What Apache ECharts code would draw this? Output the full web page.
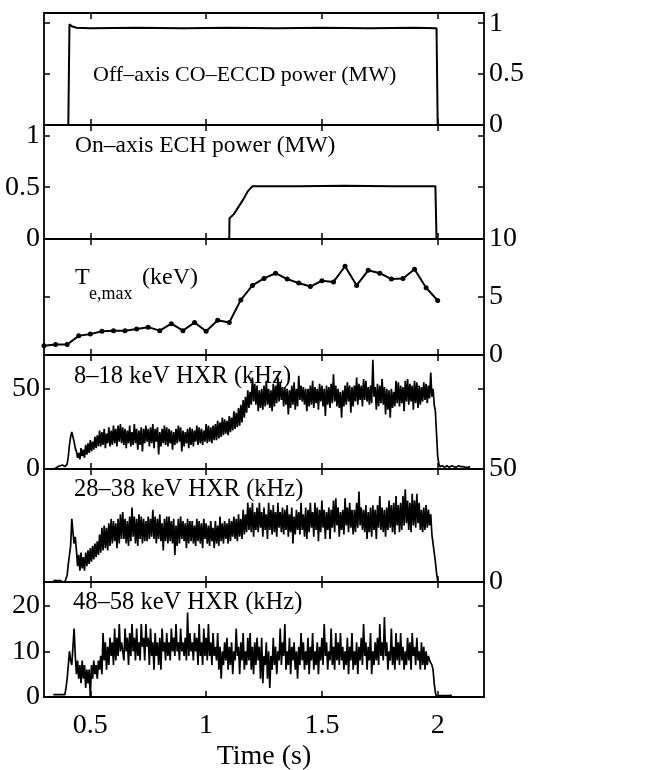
<!DOCTYPE html>
<html><head><meta charset="utf-8">
<script src="https://cdn.jsdelivr.net/npm/echarts@6/dist/echarts.min.js"></script>
<style>html,body{margin:0;padding:0;background:#fff}#c{width:648px;height:770px}</style>
</head><body><div id="c"></div>
<script>
// ---------- DATA ----------
const xTickValues = [0.5, 1, 1.5, 2];

// Panel 1: Off-axis CO-ECCD power (MW)
const eccdTime  = [0.35, 0.405, 0.41, 0.42, 0.44, 0.5, 0.7, 0.9, 1.1, 1.3, 1.5, 1.7, 1.9, 1.995, 2.0, 2.15];
const eccdPower = [0, 0, 0.99, 0.97, 0.955, 0.95, 0.955, 0.95, 0.955, 0.95, 0.955, 0.95, 0.955, 0.95, 0, 0];

// Panel 2: On-axis ECH power (MW)
const echTime  = [0.35, 1.1, 1.101, 1.12, 1.14, 1.16, 1.18, 1.2, 1.4, 1.6, 1.8, 1.99, 1.995, 2.15];
const echPower = [0, 0, 0.2, 0.24, 0.31, 0.38, 0.46, 0.51, 0.51, 0.515, 0.51, 0.51, 0, 0];

// Panel 3: Te,max (keV)
const teTime = [0.30,0.35,0.40,0.45,0.50,0.55,0.60,0.65,0.70,0.75,0.80,0.85,0.90,0.95,1.00,1.05,1.10,1.15,1.20,1.25,1.30,1.35,1.40,1.45,1.50,1.55,1.60,1.65,1.70,1.75,1.80,1.85,1.90,1.95,2.00];
const teVal  = [0.8,0.9,0.9,1.65,1.8,2.05,2.1,2.1,2.25,2.4,2.1,2.7,2.1,2.8,2.05,3.0,2.8,4.75,6.0,6.6,7.05,6.55,6.2,5.9,6.4,6.3,7.65,6.0,7.3,7.05,6.55,6.6,7.4,5.8,4.7];

// Panel 4: 8-18 keV HXR (kHz), sampled every 0.005 s from 0.34 s (one row = 0.1 s)
const hxr1Start = 0.34, hxr1Step = 0.005;
const hxr1 = [
 0,0.3,0.5,1,1.5,2,2,2.5,2.5,2,1.5,1,3,8,15,20,23,20,17,13,
 11,7,10,6,13,8,12,7,15,9,16,10,18,11,17,12,20,13,21,14,
 24,14,23,15,25,13,22,16,26,14,24,15,27,16,25,14,27,17,28,16,
 26,15,25,13,24,16,27,14,23,15,28,16,25,12,24,15,26,11,25,16,
 27,17,25,14,26,16,28,13,25,17,26,9,23,14,25,16,27,15,26,14,
 25,16,24,12,23,15,25,16,27,17,26,11,24,14,23,16,25,13,26,15,
 25,14,24,17,27,15,26,16,25,15,24,17,28,16,27,17,26,16,27,18,
 28,18,30,19,29,20,32,21,31,22,30,21,33,23,32,24,36,25,35,26,
 38,27,40,29,43,32,45,35,49,38,48,40,57,42,53,40,52,36,49,38,
 50,37,52,39,55,40,50,38,49,36,53,39,52,41,57,42,54,43,51,39,
 51,40,50,34,49,38,52,40,54,37,50,39,58,43,52,42,51,40,50,36,
 50,39,52,40,55,38,51,41,50,37,53,42,52,39,50,33,52,40,51,38,
 53,41,59,42,52,39,50,38,48,32,49,39,52,40,54,42,52,35,51,39,
 52,42,57,40,53,43,52,39,56,43,55,42,51,40,52,41,68,45,51,37,
 53,39,52,41,56,40,51,34,50,37,49,32,50,38,48,39,55,41,54,39,
 52,41,51,36,55,42,56,40,53,42,52,37,55,41,54,38,52,40,51,42,
 54,43,53,41,52,44,60,45,50,40,36,22,8,3,1.5,2,2,1,1,2,
 2,1.5,1,1,2,1.5,1.5,2,1,2,2,1,1.5,1,1.5,2,1,1.5,1,1.5,
 1.5
];

// Panel 5: 28-38 keV HXR (kHz), sampled every 0.005 s from 0.34 s
const hxr2Start = 0.34, hxr2Step = 0.005;
const hxr2 = [
 0.5,0.7,0.8,0.6,0.5,0.7,0.7,0.3,0,0,0,0,3,8,12,16,28,22,17,20,
 14,7,12,5,13,6,11,5,13,7,14,8,15,9,16,10,17,11,18,12,
 21,13,24,14,25,15,24,14,26,16,28,17,27,18,26,15,28,17,30,19,
 31,19,28,17,27,16,29,18,33,20,29,17,28,16,30,19,29,17,28,18,
 27,18,29,19,28,20,32,19,29,17,28,19,30,18,26,14,28,18,29,17,
 29,18,27,17,28,12,25,16,28,17,29,19,27,18,26,15,28,17,27,18,
 27,17,25,16,28,18,27,17,26,15,28,19,26,17,25,16,27,18,24,15,
 27,17,25,16,29,18,26,17,27,19,26,17,28,18,27,20,29,19,28,18,
 30,20,28,19,32,21,30,22,35,23,33,22,35,20,31,23,33,22,35,24,
 31,20,33,23,30,19,35,23,32,21,34,22,31,20,35,24,31,22,33,21,
 32,23,34,20,30,22,33,17,29,21,32,23,31,21,35,23,30,20,33,19,
 32,22,35,24,31,20,35,23,33,18,32,22,36,24,32,19,31,23,33,19,
 32,24,36,22,37,25,33,20,31,23,32,21,37,25,33,22,35,24,32,21,
 32,22,35,24,40,25,33,23,32,22,34,19,31,22,33,20,34,23,32,19,
 34,24,38,23,33,22,32,20,33,23,36,24,34,22,35,21,38,25,34,22,
 35,23,38,25,41,26,36,23,35,22,39,25,36,24,39,26,35,23,32,22,
 33,23,34,24,32,25,30,21,17,13,9,4,0.5
];

// Panel 6: 48-58 keV HXR (kHz), sampled every 0.005 s from 0.34 s
const hxr3Start = 0.34, hxr3Step = 0.005;
const hxr3 = [
 0.5,0.8,0.5,0.8,0.5,0.8,0.5,0.8,0.5,0.8,0.5,2,4,7,10,8,7,11,15,9,
 5,8,4,7,3,8,4,7,2,6,3,6,0,7,4,8,5,7,4,8,
 6,9,5,14,8,12,6,11,7,13,9,12,7,15,8,13,9,16,10,12,
 12,8,15,10,13,7,14,9,16,10,13,8,15,9,12,8,16,11,13,8,
 16,11,13,7,15,9,12,6,14,9,12,7,13,6,15,10,12,8,14,9,
 12,8,15,10,13,9,16,10,12,8,15,10,12,9,13,8,18.5,9,14,10,
 12,8,14,10,13,7,16,9,12,7,15,9,13,8,16,9,12,7,14,9,
 11,8,14,6,11,4,10,7,12,8,13,6,11,7,12,5,10,8,15,9,
 11,5,12,8,14,6,10,7,13,8,14,6,11,5,12,7,13,8,11,4,
 13,3,9,7,12,4,10,2,9,6,13,7,11,5,10,8,15,7,12,9,
 16,6,10,7,13,5,11,8,12,6,10,4,11,7,14,8,12,6,10,7,
 13,5,11,8,14,6,10,7,12,5,11,8,13,7,16,9,12,6,10,8,
 15,7,11,6,14,8,12,7,14,8,11,6,10,7,13,5,11,8,14,6,
 10,7,12,5,11,8,13,7,16,9,12,6,11,8,14,5,10,7,12,8,
 13,7,16,9,12,8,17.5,9,12,6,10,8,15,7,11,6,14,8,12,7,
 14,8,11,6,10,7,13,8,12,6,14,9,11,7,13,8,10,6,12,7,
 11,6,10,7,9,8,8,7,6,3,1,0,0,0.3,0.5,0.3,0.5,0.3,0.5,0.3,
 0.5,0.3,0.5,0.3,0.5
];

// ---------- LAYOUT / STYLE ----------
const FONT = 'Liberation Serif';
const TICK_FONT = 28;
const panels = [
  {top: 13,  height: 112, ymax: 1.1,  yticks: [0, 0.5, 1],  side: 'right'},
  {top: 125, height: 114, ymax: 1.1,  yticks: [0, 0.5, 1],  side: 'left'},
  {top: 239, height: 116, ymax: 10,   yticks: [0, 5, 10],   side: 'right'},
  {top: 355, height: 114, ymax: 71,   yticks: [0, 50],      side: 'left'},
  {top: 469, height: 113, ymax: 50,   yticks: [0, 50],      side: 'right'},
  {top: 582, height: 115, ymax: 25.2, yticks: [0, 10, 20],  side: 'left'}
];

function pairs(t, v) { return v.map((y, i) => [t[i], y]); }
function sampled(start, step, v) { return v.map((y, i) => [+(start + i * step).toFixed(4), y]); }

const axisLineStyle = {color: '#000', width: 1.8};
const tickStyle = {color: '#000', width: 1.5};
const grids = [], xAxes = [], yAxes = [];
panels.forEach((p, i) => {
  grids.push({left: 44, width: 440, top: p.top, height: p.height, containLabel: false, outerBoundsMode: 'none'});
  const last = i === panels.length - 1;
  xAxes.push({
    type: 'value', gridIndex: i, min: 0.3, max: 2.2, position: 'bottom',
    axisLine: {show: true, onZero: false, lineStyle: axisLineStyle},
    axisTick: {show: true, inside: true, length: 6, customValues: xTickValues, lineStyle: tickStyle},
    axisLabel: {show: last, customValues: xTickValues, color: '#000', fontFamily: FONT, fontSize: TICK_FONT, margin: 15,
      formatter: v => String(v)},
    splitLine: {show: false},
    name: last ? 'Time (s)' : '', nameLocation: 'middle', nameGap: 46,
    nameTextStyle: {color: '#000', fontFamily: FONT, fontSize: TICK_FONT}
  });
  xAxes.push({
    type: 'value', gridIndex: i, min: 0.3, max: 2.2, position: 'top',
    axisLine: {show: true, onZero: false, lineStyle: axisLineStyle},
    axisTick: {show: true, inside: true, length: 6, customValues: xTickValues, lineStyle: tickStyle},
    axisLabel: {show: false}, splitLine: {show: false}
  });
  ['left', 'right'].forEach(side => {
    yAxes.push({
      type: 'value', gridIndex: i, min: 0, max: p.ymax, position: side,
      axisLine: {show: true, onZero: false, lineStyle: axisLineStyle},
      axisTick: {show: true, inside: true, length: 6, customValues: p.yticks, lineStyle: tickStyle},
      axisLabel: {show: side === p.side, customValues: p.yticks, color: '#000', fontFamily: FONT, fontSize: TICK_FONT,
        margin: side === 'left' ? 4 : 5, formatter: v => String(v)},
      splitLine: {show: false}
    });
  });
});

const lineBase = {type: 'line', showSymbol: false, symbol: 'none', animation: false,
  lineStyle: {color: '#000', width: 1.7}, silent: true};
const series = [
  Object.assign({}, lineBase, {xAxisIndex: 0, yAxisIndex: 0, data: pairs(eccdTime, eccdPower), lineStyle: {color: '#000', width: 2}}),
  Object.assign({}, lineBase, {xAxisIndex: 2, yAxisIndex: 2, data: pairs(echTime, echPower), lineStyle: {color: '#000', width: 2}}),
  {type: 'line', xAxisIndex: 4, yAxisIndex: 4, data: pairs(teTime, teVal), symbol: 'circle', symbolSize: 5,
   showSymbol: true, itemStyle: {color: '#000'}, lineStyle: {color: '#000', width: 2}, animation: false, silent: true},
  Object.assign({}, lineBase, {xAxisIndex: 6, yAxisIndex: 6, data: sampled(hxr1Start, hxr1Step, hxr1)}),
  Object.assign({}, lineBase, {xAxisIndex: 8, yAxisIndex: 8, data: sampled(hxr2Start, hxr2Step, hxr2)}),
  Object.assign({}, lineBase, {xAxisIndex: 10, yAxisIndex: 10, data: sampled(hxr3Start, hxr3Step, hxr3)})
];

const txt = (x, y, s, size) => ({type: 'text', left: x, top: y, z: 10,
  style: {text: s, fill: '#000', font: size + 'px "' + FONT + '"'}});
const graphic = [
  txt(93, 64, 'Off\u2013axis CO\u2013ECCD power (MW)', 22),
  txt(75, 134, 'On\u2013axis ECH power (MW)', 23.5),
  txt(75, 266, 'T', 24),
  txt(89, 285, 'e,max', 18),
  txt(142, 266, '(keV)', 24),
  txt(74, 364, '8\u201318 keV HXR (kHz)', 24.5),
  txt(74, 477, '28\u201338 keV HXR (kHz)', 24.5),
  txt(73, 590, '48\u201358 keV HXR (kHz)', 24.5)
];

const chart = echarts.init(document.getElementById('c'), null, {renderer: 'canvas'});
chart.setOption({
  backgroundColor: '#fff', animation: false,
  grid: grids, xAxis: xAxes, yAxis: yAxes, series: series, graphic: graphic
});
</script></body></html>
